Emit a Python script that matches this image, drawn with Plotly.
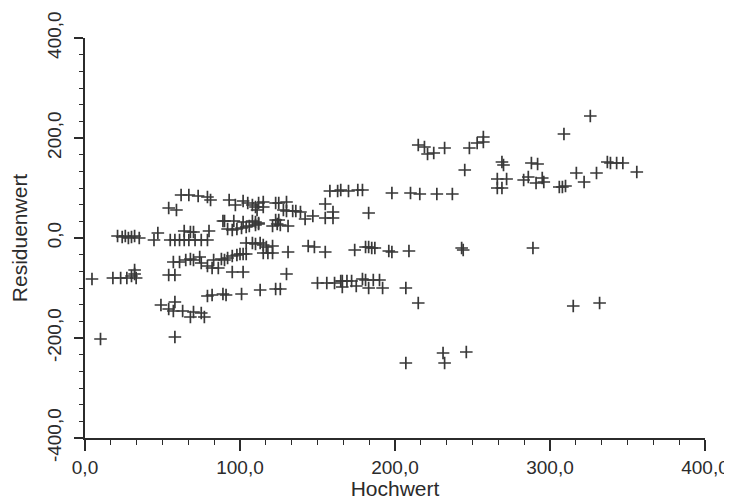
import plotly.graph_objects as go

hochwert = [
    4.5, 10, 62, 67, 73, 79, 81, 54, 59, 89, 21, 24, 26, 28, 30, 32, 35, 47, 44.5,
    64, 68, 70, 80, 55, 58, 61, 64, 67, 71, 75, 79, 57, 61, 65, 68, 70, 74, 75, 79,
    83, 88, 82, 86, 18, 23, 27, 30, 32, 32, 33, 54, 58, 79, 82, 89, 49, 54, 57, 63,
    58, 70, 68, 75, 77, 58, 158, 163, 93, 97, 102, 105, 108, 110, 112, 115, 115, 111,
    123, 125, 130, 128, 130, 134, 136, 139, 142, 147, 155, 160, 155, 160, 90, 96,
    102, 108, 110, 112, 92, 95, 98, 101, 104, 106, 110, 112, 121, 123, 125, 124, 126,
    131, 104, 108, 110, 113, 115, 117, 121, 131, 144, 148, 155, 90, 92, 95, 98, 100,
    102, 104, 115, 118, 121, 95, 102, 130, 91, 101, 113, 123, 126, 150, 156, 161,
    215, 219, 221, 225, 232, 248, 253, 257, 257, 245, 165, 170, 176, 179, 198, 210,
    216, 227, 237, 183, 174, 181, 183, 185, 187, 196, 198, 209, 243, 244, 165, 166,
    169, 172, 179, 181, 186, 190, 166, 175, 183, 192, 207, 215, 231, 232, 246, 207,
    326, 309, 269, 270, 288, 292, 266, 272, 266, 269, 283, 286, 291, 295, 296, 306,
    308, 310, 317, 322, 330, 337, 339, 343, 347, 356, 289, 315, 332,
]
residuen = [
    -82, -202, 86, 86, 84, 82, 76, 60, 56, 34, 4, 2, 4, 0, 2, 4, 0, 10, -4,
    14, 12, 12, 14, -4, -4, -4, -4, -4, -4, -4, -4, -48, -48, -44, -42, -44, -38, -50, -56,
    -44, -42, -60, -60, -80, -80, -80, -76, -64, -72, -80, -74, -74, -116, -114, -112, -134, -142, -146, -146,
    -128, -148, -158, -150, -158, -198, 94, 94, 76, 66, 74, 70, 66, 62, 70, 72, 62, 56,
    70, 70, 72, 56, 54, 54, 54, 52, 38, 44, 40, 40, 68, 52, 34, 34,
    32, 34, 32, 30, 18, 16, 18, 20, 22, 24, 26, 28, 24, 36, 36, 28, 26,
    24, -10, -10, -12, -10, -14, -18, -16, -28, -16, -18, -28, -44, -40, -36, -34, -32,
    -32, -32, -30, -30, -30, -68, -68, -72, -114, -112, -104, -102, -102, -90, -90, -90,
    186, 182, 168, 170, 180, 180, 190, 202, 192, 136, 96, 94, 96, 96, 90, 90,
    88, 88, 88, 50, -24, -18, -18, -20, -20, -26, -28, -26, -20, -24, -86, -86,
    -86, -86, -82, -84, -84, -84, -98, -96, -100, -100, -100, -130, -230, -250, -228, -250,
    244, 208, 152, 146, 150, 148, 118, 118, 100, 100, 116, 122, 110, 120, 112, 102,
    102, 104, 130, 112, 130, 152, 150, 150, 150, 132, -20, -136, -130,
]

x_ticks = [0, 100, 200, 300, 400]
x_ticktext = ["0,0", "100,0", "200,0", "300,0", "400,0"]
y_ticks = [-400, -200, 0, 200, 400]
y_ticktext = ["-400,0", "-200,0", "0,0", "200,0", "400,0"]

font_family = "Liberation Sans, Arial, sans-serif"
ink = "#2b2b2b"

fig = go.Figure()
fig.add_trace(go.Scatter(
    x=hochwert, y=residuen, mode="markers",
    marker=dict(symbol="cross-thin", size=9, line=dict(width=1.7, color="#383838"), color="#383838"),
    showlegend=False, hoverinfo="skip",
))

# page body has an 8px default margin (top/left), so the figure is sized to fit the window
fig.update_layout(
    width=724, height=492,
    margin=dict(l=77, r=27, t=30, b=62),
    paper_bgcolor="white", plot_bgcolor="white",
    font=dict(family=font_family, size=19, color=ink),
    xaxis=dict(
        range=[0, 400], showgrid=False, zeroline=False, automargin=False,
        showline=True, linecolor=ink, linewidth=1.5,
        tickmode="array", tickvals=x_ticks, ticktext=x_ticktext,
        ticks="outside", ticklen=11, tickwidth=1.5, tickcolor=ink,
        minor=dict(tickmode="linear", tick0=0, dtick=100 / 6, ticks="outside",
                   ticklen=5, tickwidth=1.2, tickcolor=ink, showgrid=False),
        tickfont=dict(size=19, color=ink),
        title=dict(text="Hochwert", font=dict(size=21, color=ink), standoff=0),
    ),
    yaxis=dict(
        range=[-400, 400], showgrid=False, zeroline=False, automargin=False,
        showline=True, linecolor=ink, linewidth=1.5,
        tickmode="array", tickvals=y_ticks, ticktext=y_ticktext,
        ticks="outside", ticklen=9, tickwidth=1.5, tickcolor=ink,
        minor=dict(tickmode="linear", tick0=0, dtick=200 / 6, ticks="outside",
                   ticklen=4, tickwidth=1.2, tickcolor=ink, showgrid=False),
        tickangle=-90, ticklabelstandoff=6,
        tickfont=dict(size=19, color=ink),
        title=dict(text="Residuenwert", font=dict(size=21, color=ink), standoff=14),
    ),
)

fig.write_html("out.html")
